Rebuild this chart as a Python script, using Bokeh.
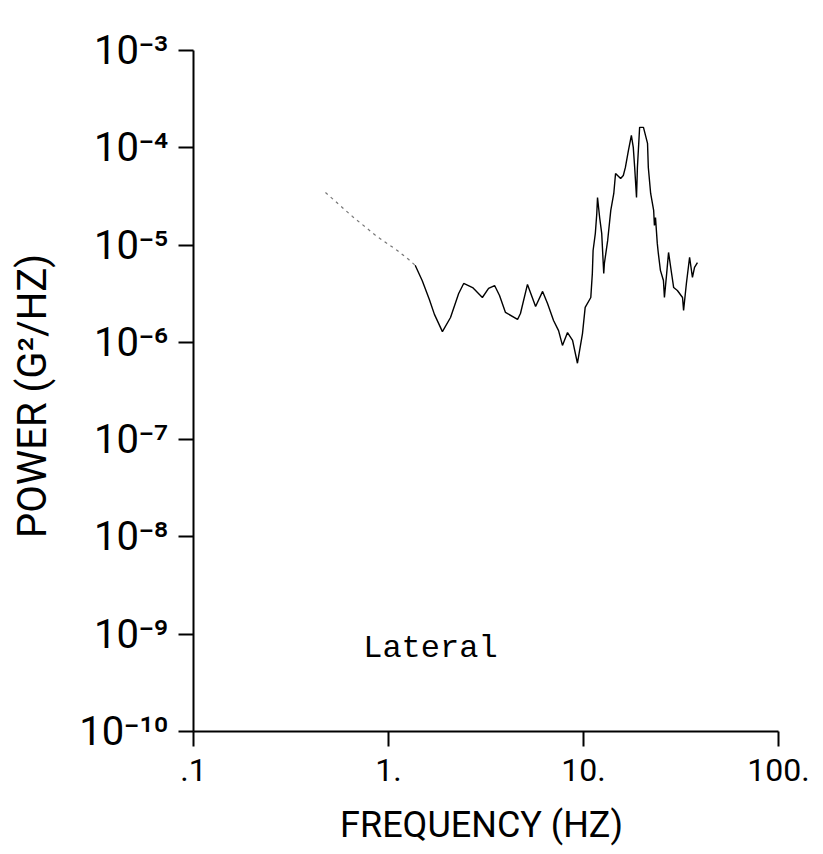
from bokeh.plotting import figure
from bokeh.models import Range1d, FixedTicker, CustomJSTickFormatter, Label
from bokeh.embed import file_html
from bokeh.resources import INLINE

# ---- data (frequency in Hz, power in G^2/Hz) ----
freq = [0.475, 0.653, 0.857, 1.11, 1.27, 1.37, 1.49, 1.62, 1.72, 1.89,
        2.08, 2.29, 2.43, 2.70, 3.03, 3.26, 3.50, 3.71, 3.98, 4.59,
        4.75, 5.16, 5.68, 6.17, 6.54, 7.02, 7.45, 7.80, 8.28, 8.79,
        9.31, 9.88, 10.2, 10.9, 11.1, 11.2, 11.5, 11.7, 11.8, 12.1,
        12.4, 12.7, 12.8, 13.3, 13.8, 14.3, 14.6, 15.5, 16.0, 16.4,
        17.0, 17.6, 18.0, 18.3, 18.7, 18.9, 19.4, 20.3, 21.3, 21.5,
        22.1, 22.9, 23.1, 23.4, 23.9, 24.2, 24.8, 25.7, 26.0, 26.7,
        27.3, 28.3, 29.0, 30.3, 32.2, 32.6, 33.7, 35.0, 36.2, 37.1, 38.4]
power = [3.47e-5, 1.97e-5, 1.26e-5, 8.8e-6, 7.1e-6, 6.2e-6, 4.3e-6, 2.76e-6, 1.94e-6, 1.29e-6,
         1.80e-6, 3.18e-6, 4.03e-6, 3.66e-6, 2.89e-6, 3.58e-6, 3.84e-6, 3.03e-6, 2.03e-6, 1.72e-6,
         1.98e-6, 3.94e-6, 2.34e-6, 3.34e-6, 2.51e-6, 1.68e-6, 1.32e-6, 9.3e-7, 1.26e-6, 1.05e-6,
         6.1e-7, 1.23e-6, 2.29e-6, 2.89e-6, 5.1e-6, 8.8e-6, 1.32e-5, 2.11e-5, 3.08e-5, 1.92e-5,
         1.32e-5, 5.1e-6, 6.5e-6, 1.11e-5, 2.27e-5, 3.39e-5, 5.44e-5, 4.83e-5, 5.19e-5, 6.28e-5,
         9.4e-5, 1.34e-4, 1.01e-4, 6.28e-5, 3.08e-5, 6.28e-5, 1.62e-4, 1.62e-4, 1.11e-4, 6.28e-5,
         3.39e-5, 2.27e-5, 1.59e-5, 1.92e-5, 1.04e-5, 8.2e-6, 5.5e-6, 4.33e-6, 2.89e-6, 5.1e-6,
         8.4e-6, 5.1e-6, 3.66e-6, 3.41e-6, 2.89e-6, 2.13e-6, 4.03e-6, 7.5e-6, 4.65e-6, 5.9e-6, 6.6e-6]

x_ticks = [0.1, 1, 10, 100]
x_tick_labels = [".1", "1.", "10.", "100."]
y_ticks = [1e-10, 1e-9, 1e-8, 1e-7, 1e-6, 1e-5, 1e-4, 1e-3]
y_tick_labels = ["10⁻¹⁰", "10⁻⁹", "10⁻⁸", "10⁻⁷", "10⁻⁶", "10⁻⁵", "10⁻⁴", "10⁻³"]

x_title = "FREQUENCY  (HZ)"
y_title = "POWER  (G²/HZ)"
note = "Lateral"

FONT = "Roboto, 'DejaVu Sans', sans-serif"

p = figure(width=823, height=854, x_axis_type="log", y_axis_type="log",
           x_range=Range1d(0.1, 100), y_range=Range1d(1e-10, 1e-3),
           output_backend="svg", toolbar_location=None,
           min_border_left=193, min_border_right=45,
           min_border_top=50, min_border_bottom=123)
p.outline_line_color = None
p.grid.visible = False
p.background_fill_color = "white"
p.border_fill_color = "white"

fmt_code = """
const lt = Math.log10(tick);
let best = 0, bd = 1e9;
for (let i = 0; i < vals.length; i++) {
  const d = Math.abs(Math.log10(vals[i]) - lt);
  if (d < bd) { bd = d; best = i; }
}
return labels[best];
"""
p.xaxis.ticker = FixedTicker(ticks=x_ticks, minor_ticks=[])
p.yaxis.ticker = FixedTicker(ticks=y_ticks, minor_ticks=[])
p.xaxis.formatter = CustomJSTickFormatter(args=dict(vals=x_ticks, labels=x_tick_labels), code=fmt_code)
p.yaxis.formatter = CustomJSTickFormatter(args=dict(vals=y_ticks, labels=y_tick_labels), code=fmt_code)

for ax in (p.xaxis[0], p.yaxis[0]):
    ax.axis_line_color = "black"
    ax.axis_line_width = 2
    ax.major_tick_line_color = "black"
    ax.major_tick_line_width = 2
    ax.major_tick_in = 0
    ax.major_tick_out = 15
    ax.minor_tick_out = 0
    ax.minor_tick_in = 0
    ax.major_label_text_font = FONT
    ax.major_label_text_color = "black"
    ax.axis_label_text_font = FONT
    ax.axis_label_text_font_style = "normal"
    ax.axis_label_text_color = "black"

p.xaxis.major_label_text_font_size = "32px"
p.xaxis.major_label_standoff = 12
p.xaxis.axis_label = x_title
p.xaxis.axis_label_text_font_size = "36px"
p.xaxis.axis_label_standoff = 20

p.yaxis.major_label_text_font_size = "40px"
p.yaxis.major_label_standoff = 10
p.yaxis.axis_label = y_title
p.yaxis.axis_label_text_font_size = "40px"
p.yaxis.axis_label_standoff = 20

split = 5
p.line(freq[:split + 1], power[:split + 1], line_color="#777777", line_width=1.2, line_dash="3 4")
p.line(freq[split:], power[split:], line_color="black", line_width=1.4)

p.add_layout(Label(x=1.64, y=7.1e-10, text=note, text_align="center", text_baseline="middle",
                   text_font="'Liberation Mono', 'Courier New', monospace",
                   text_font_size="32px", text_color="black"))

open("out.html", "w").write(file_html(p, INLINE))
